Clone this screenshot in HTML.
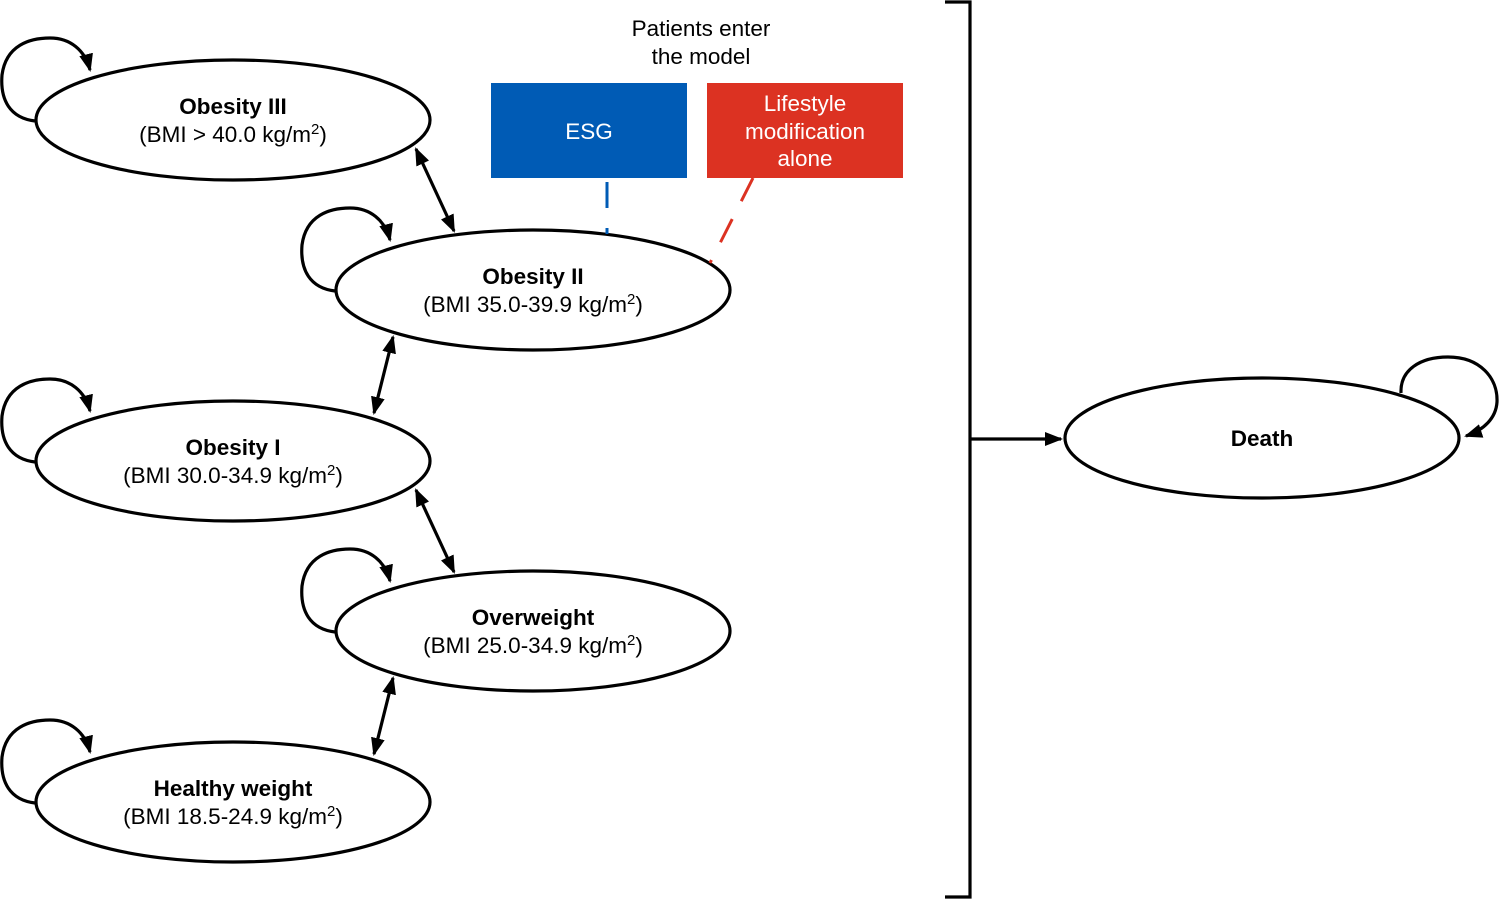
<!DOCTYPE html>
<html><head><meta charset="utf-8"><style>
html,body{margin:0;padding:0;background:#fff;}
svg{display:block;font-family:"Liberation Sans",Arial,sans-serif;}
</style></head><body>
<svg width="1500" height="900" viewBox="0 0 1500 900" xmlns="http://www.w3.org/2000/svg">
<defs>
<marker id="a" viewBox="0 0 18 14" refX="16" refY="7" markerWidth="18" markerHeight="14" markerUnits="userSpaceOnUse" orient="auto-start-reverse">
<path d="M0,0 L18,7 L0,14 z" fill="#000"/></marker>
<g id="loop"><path d="M35,121 C10,118 0,100 2,75 C6,45 30,38 50,38 C70,38 85,50 90,70" fill="none" stroke="#000" stroke-width="3.2" marker-end="url(#a)"/></g>
</defs>
<g fill="#fff" stroke="#000" stroke-width="3.2">
<ellipse cx="233" cy="120" rx="197" ry="60"/>
<ellipse cx="533" cy="290" rx="197" ry="60"/>
<ellipse cx="233" cy="461" rx="197" ry="60"/>
<ellipse cx="533" cy="631" rx="197" ry="60"/>
<ellipse cx="233" cy="802" rx="197" ry="60"/>
<ellipse cx="1262" cy="438" rx="197" ry="60"/>
</g>
<use href="#loop"/>
<use href="#loop" transform="translate(300,170)"/>
<use href="#loop" transform="translate(0,341)"/>
<use href="#loop" transform="translate(300,511)"/>
<use href="#loop" transform="translate(0,682)"/>
<path d="M1401,393 C1400,370 1420,357 1448,357 C1480,357 1498,378 1497,402 C1496,418 1484,430 1466,436" fill="none" stroke="#000" stroke-width="3.2" marker-end="url(#a)"/>
<g stroke="#000" stroke-width="3.2" fill="none">
<line x1="416" y1="149" x2="454" y2="231" marker-start="url(#a)" marker-end="url(#a)"/>
<line x1="393" y1="337" x2="374" y2="413" marker-start="url(#a)" marker-end="url(#a)"/>
<line x1="416" y1="490" x2="454" y2="572" marker-start="url(#a)" marker-end="url(#a)"/>
<line x1="393" y1="678" x2="374" y2="754" marker-start="url(#a)" marker-end="url(#a)"/>
<path d="M945,2 H970 V897 H945"/>
<line x1="970" y1="439" x2="1061" y2="439" marker-end="url(#a)"/>
</g>
<rect x="491" y="83" width="196" height="95" fill="#005bb5"/>
<rect x="707" y="83" width="196" height="95" fill="#dc3222"/>
<line x1="607" y1="182" x2="607" y2="234" stroke="#005bb5" stroke-width="3" stroke-dasharray="26,20"/>
<line x1="753" y1="178" x2="710" y2="263" stroke="#dc3222" stroke-width="3" stroke-dasharray="26,20"/>
<g font-size="22.5" text-anchor="middle" fill="#000">
<text x="701" y="36">Patients enter</text>
<text x="701" y="64">the model</text>
<text x="589" y="139" fill="#fff">ESG</text>
<text x="805" y="111" fill="#fff">Lifestyle</text>
<text x="805" y="139" fill="#fff">modification</text>
<text x="805" y="166" fill="#fff">alone</text>
<text x="233" y="114" font-weight="bold">Obesity III</text>
<text x="233" y="142">(BMI &gt; 40.0 kg/m<tspan font-size="15" dy="-8">2</tspan><tspan dy="8">)</tspan></text>
<text x="533" y="284" font-weight="bold">Obesity II</text>
<text x="533" y="312">(BMI 35.0-39.9 kg/m<tspan font-size="15" dy="-8">2</tspan><tspan dy="8">)</tspan></text>
<text x="233" y="455" font-weight="bold">Obesity I</text>
<text x="233" y="483">(BMI 30.0-34.9 kg/m<tspan font-size="15" dy="-8">2</tspan><tspan dy="8">)</tspan></text>
<text x="533" y="625" font-weight="bold">Overweight</text>
<text x="533" y="653">(BMI 25.0-34.9 kg/m<tspan font-size="15" dy="-8">2</tspan><tspan dy="8">)</tspan></text>
<text x="233" y="796" font-weight="bold">Healthy weight</text>
<text x="233" y="824">(BMI 18.5-24.9 kg/m<tspan font-size="15" dy="-8">2</tspan><tspan dy="8">)</tspan></text>
<text x="1262" y="446" font-weight="bold">Death</text>
</g>
</svg>
</body></html>
